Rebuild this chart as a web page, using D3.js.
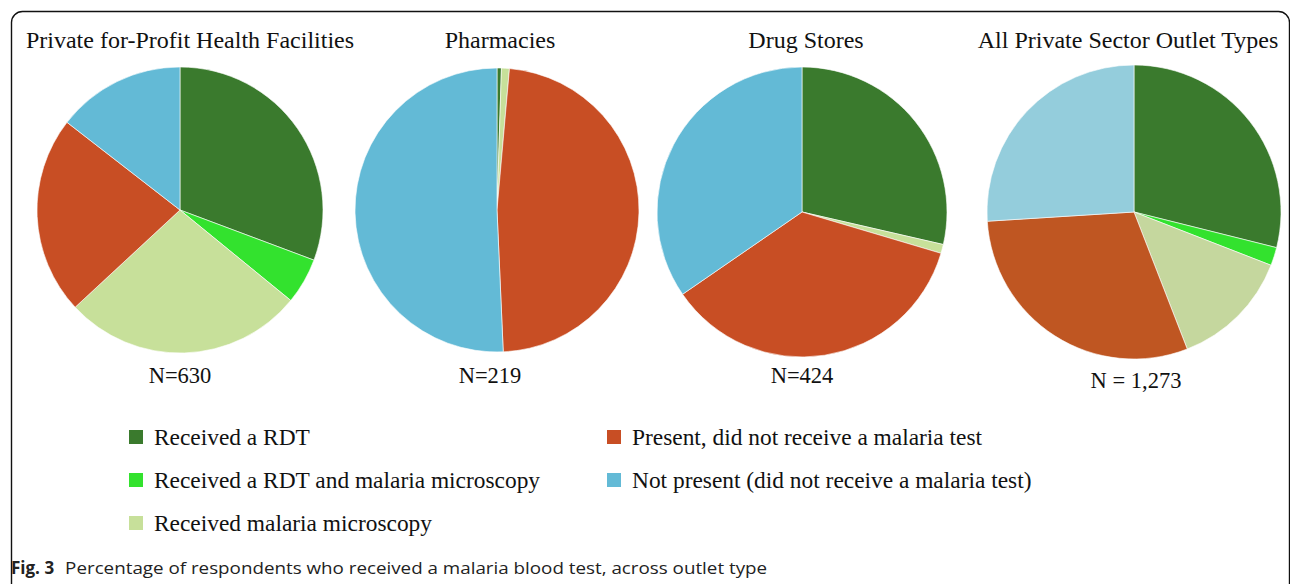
<!DOCTYPE html>
<html><head><meta charset="utf-8">
<script src="https://cdn.jsdelivr.net/npm/d3@7"></script>
<style>body{margin:0;background:#fff}svg{display:block}</style>
</head><body>
<svg id="chart" width="1290" height="584"></svg>
<script>
const categories = ["Received a RDT","Received a RDT and malaria microscopy","Received malaria microscopy","Present, did not receive a malaria test","Not present (did not receive a malaria test)"];
const outlets = ["Private for-Profit Health Facilities","Pharmacies","Drug Stores","All Private Sector Outlet Types"];
const sampleLabels = ["N=630","N=219","N=424","N = 1,273"];
const healthFacilities = [30.7, 5.2, 27.2, 22.4, 14.5];
const pharmacies = [0.5, 0, 0.9, 47.9, 50.7];
const drugStores = [28.6, 0, 1.0, 35.8, 34.6];
const allOutlets = [28.9, 2.0, 13.2, 29.9, 26.0];
const seriesValues = [healthFacilities, pharmacies, drugStores, allOutlets];

const palette = ["#3a7a2d","#33e22e","#c7e09a","#c84e24","#63bad6"];
const paletteAll = ["#3a7a2d","#33e22e","#c5d79e","#bf5622","#94cddc"];

const svg = d3.select("#chart");
svg.append("rect").attr("x",11.5).attr("y",11.5).attr("width",1278).attr("height",700)
  .attr("rx",11).attr("fill","none").attr("stroke","#111").attr("stroke-width",1.4);

const centers = [[180,210,143],[497,210,142],[802,212,145],[1134,212,147]];
const titleX = [190,500,806,1128];
const labelPos = [[180,383],[490,383],[802,383],[1136,388]];

const pie = d3.pie().sort(null).value(d=>d);
seriesValues.forEach((vals,i)=>{
  const [cx,cy,r] = centers[i];
  const arc = d3.arc().innerRadius(0).outerRadius(r);
  const pal = i===3 ? paletteAll : palette;
  const g = svg.append("g").attr("transform",`translate(${cx},${cy})`);
  g.selectAll("path").data(pie(vals).filter(d=>d.value>0)).enter().append("path")
    .attr("d",arc).attr("fill",d=>pal[d.index]).attr("stroke","#fff").attr("stroke-width",0.6);
  svg.append("text").attr("x",titleX[i]).attr("y",48).attr("text-anchor","middle")
    .attr("font-family","Liberation Serif, serif").attr("font-size",24).attr("fill","#111").text(outlets[i]);
  svg.append("text").attr("x",labelPos[i][0]).attr("y",labelPos[i][1]).attr("text-anchor","middle")
    .attr("font-family","Liberation Serif, serif").attr("font-size",22.5).attr("fill","#111").text(sampleLabels[i]);
});

const legendPos = [[129,437],[129,480],[129,523],[607,437],[607,480]];
categories.forEach((c,i)=>{
  const [x,y] = legendPos[i];
  svg.append("rect").attr("x",x).attr("y",y-7).attr("width",14).attr("height",14).attr("fill",palette[i]);
  svg.append("text").attr("x",x+25).attr("y",y+8).attr("font-family","Liberation Serif, serif")
    .attr("font-size",23.4).attr("fill","#111").text(c);
});

const cap = svg.append("text").attr("x",11).attr("y",574).attr("font-family","Open Sans, sans-serif")
  .attr("font-size",17).attr("fill","#222");
cap.append("tspan").attr("font-weight","bold").text("Fig. 3");
cap.append("tspan").attr("dx",11).text("Percentage of respondents who received a malaria blood test, across outlet type")
  .attr("textLength",702).attr("lengthAdjust","spacingAndGlyphs");
</script>
</body></html>
